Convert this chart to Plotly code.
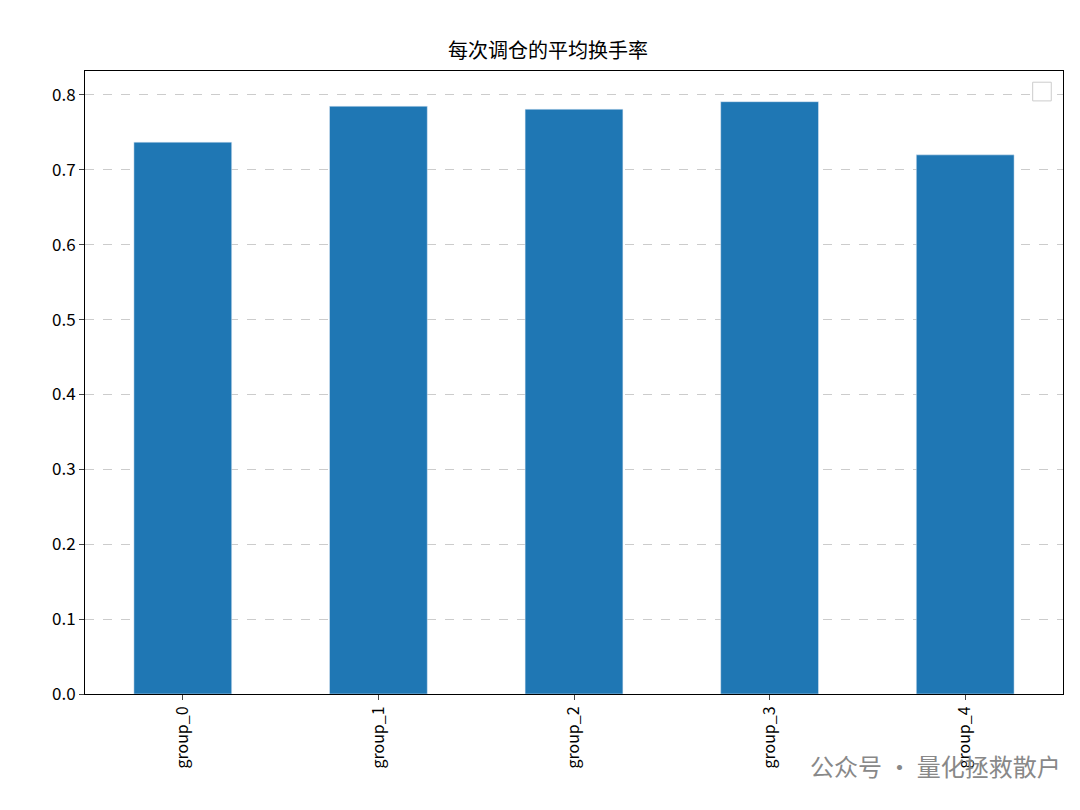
import plotly.graph_objects as go

groups = ["group_0", "group_1", "group_2", "group_3", "group_4"]
turnover = [0.737, 0.785, 0.781, 0.791, 0.720]
yticks = [0.0, 0.1, 0.2, 0.3, 0.4, 0.5, 0.6, 0.7, 0.8]

font = "Noto Sans CJK SC"

fig = go.Figure()
fig.add_trace(go.Bar(x=groups, y=turnover, marker_color="#1f77b4", width=0.5))

fig.update_layout(
    width=1080, height=810,
    margin=dict(l=77, r=25, t=63, b=124),
    paper_bgcolor="white", plot_bgcolor="white",
    showlegend=False,
    font=dict(family=font, size=17, color="black"),
    title=dict(text="每次调仓的平均换手率", x=0.5, xanchor="center", y=0.955, font=dict(size=20)),
    xaxis=dict(range=[-0.5, 4.5], tickangle=-90, showline=True, linecolor="black", mirror=True,
               ticks="outside", ticklen=5, tickfont=dict(size=16)),
    yaxis=dict(range=[0, 0.832], tickvals=yticks, tickformat=".1f", showline=True, linecolor="black",
               mirror=True, ticks="outside", ticklen=5, showgrid=True, gridcolor="#cccccc",
               griddash="dash", zeroline=False),
    shapes=[dict(type="rect", xref="paper", yref="paper", x0=0.969, x1=0.988, y0=0.952, y1=0.982,
                 line=dict(color="#cccccc", width=1), fillcolor="white")],
    annotations=[dict(text="公众号 · 量化拯救散户", xref="paper", yref="paper", x=1.0, y=-0.115,
                      xanchor="right", yanchor="middle", showarrow=False,
                      font=dict(size=24, color="#888888"))],
)

fig.write_html("out.html")
